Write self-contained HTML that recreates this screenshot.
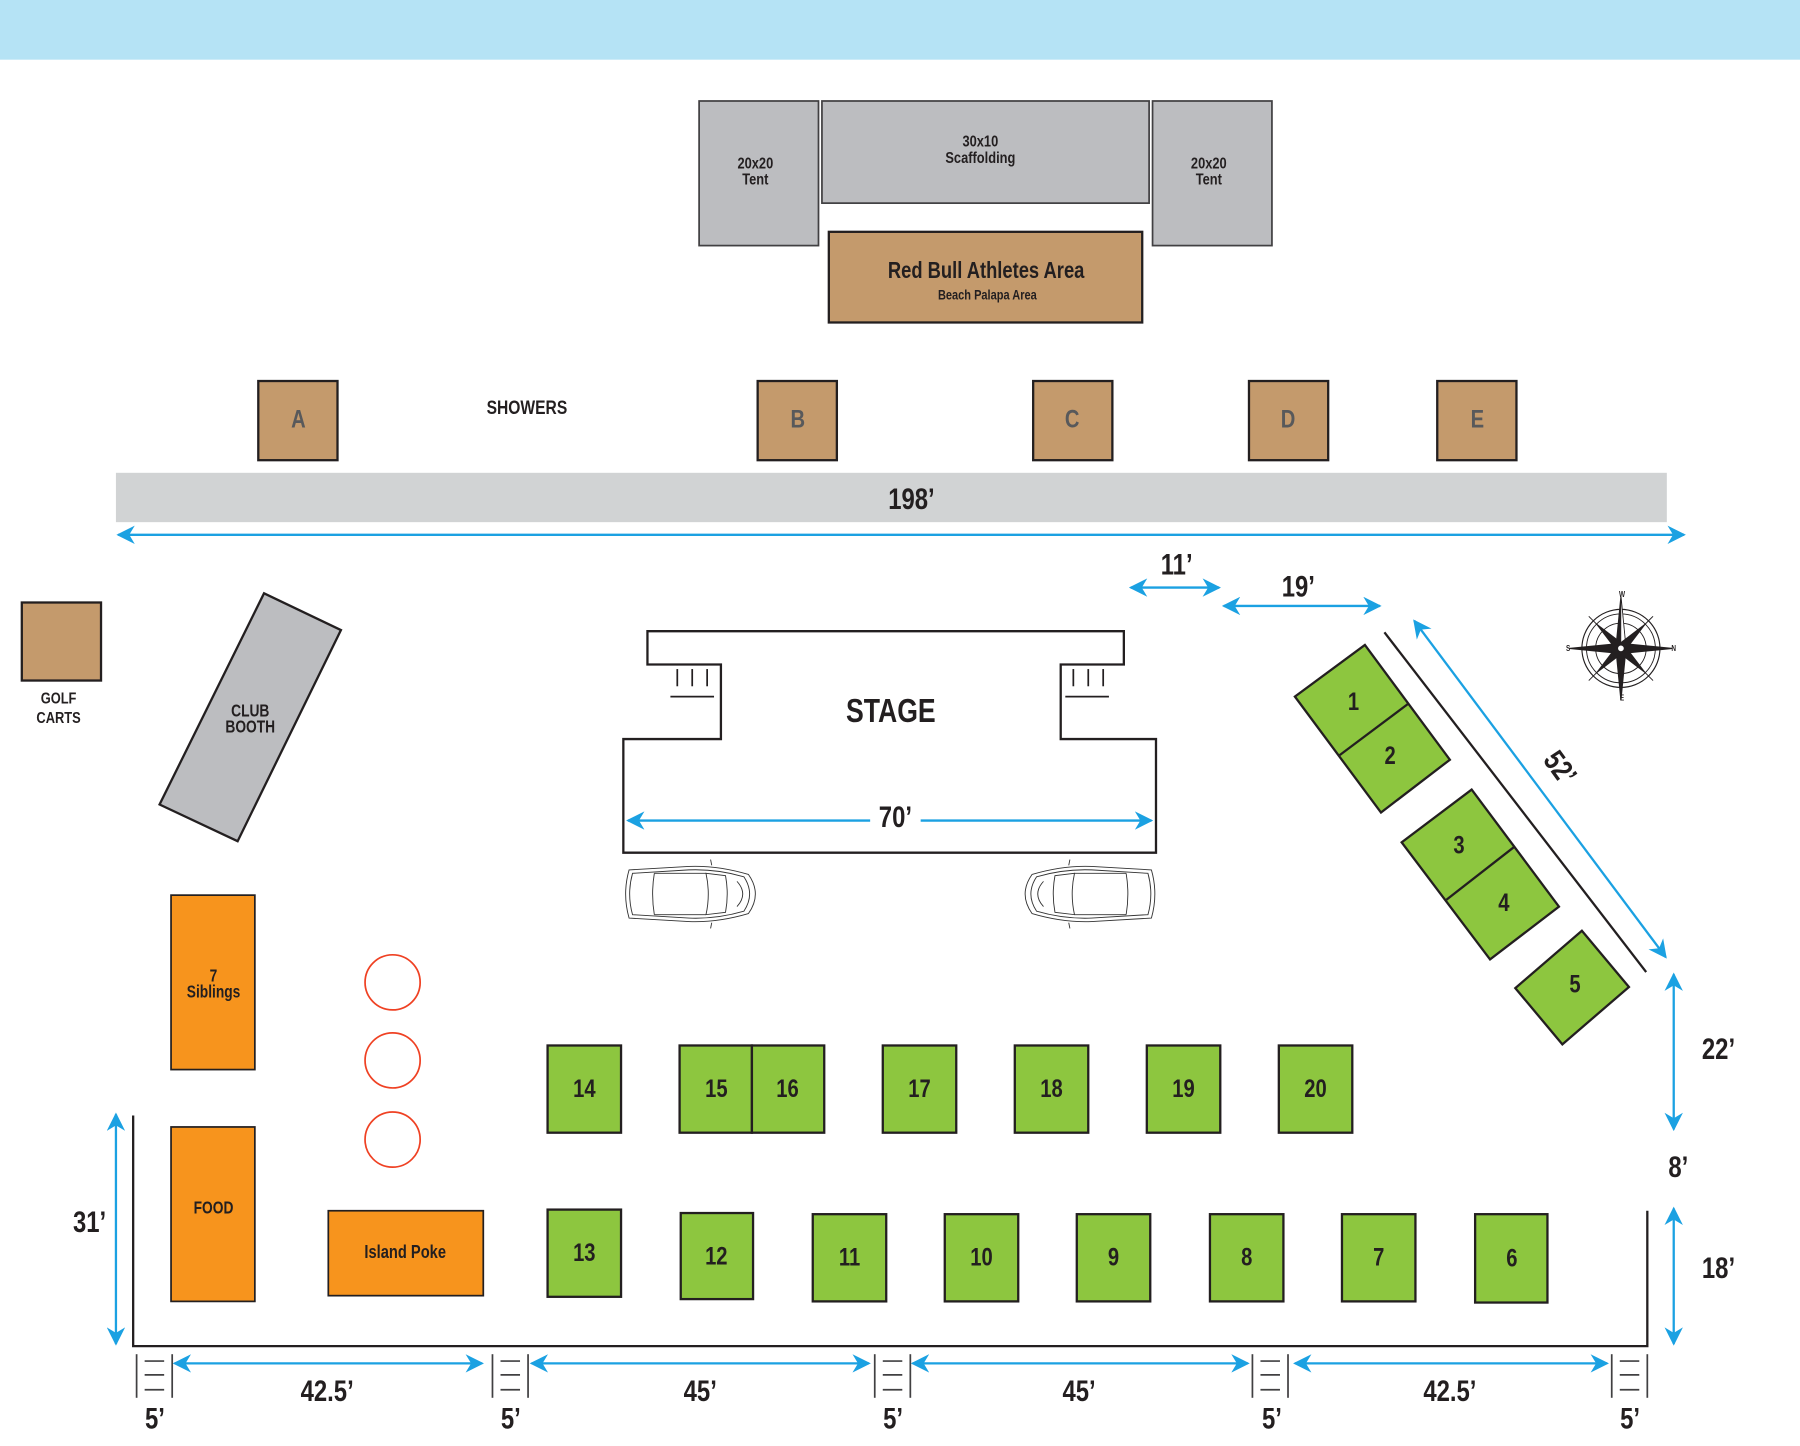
<!DOCTYPE html>
<html><head><meta charset="utf-8"><style>
html,body{margin:0;padding:0;background:#fff;}
svg{display:block}
text{font-family:"Liberation Sans",sans-serif;font-weight:bold;fill:#231f20;text-anchor:middle;dominant-baseline:central;transform-box:fill-box;transform-origin:center;transform:scaleX(.8)}
</style></head><body>
<svg width="1800" height="1446" viewBox="0 0 1568 1260" preserveAspectRatio="none" xmlns="http://www.w3.org/2000/svg">
<defs>
<marker id="a2" viewBox="0 0 10 10" refX="9" refY="5" markerWidth="16" markerHeight="16" orient="auto-start-reverse" markerUnits="userSpaceOnUse">
<path d="M0,0 L10,5 L0,10 L3,5 Z" fill="#1ba1e2"/></marker>
<g id="car" fill="none" stroke="#333" stroke-width="0.8">
<path d="M8,6 Q2,27 8,48 L60,51 Q85,52 112,44 Q124,27 112,10 Q85,2 60,3 Z"/>
<path d="M11,9 Q6,27 11,45 L60,48 Q84,49 108,42 Q118,27 108,12 Q84,5 60,6 Z"/>
<path d="M30,9 Q27,27 30,45 M75,9 Q79,27 75,45 L92,43 Q95,27 92,11 Z"/>
<path d="M75,9 L30,9 M75,45 L30,45"/>
<path d="M102,16 Q112,27 102,38"/>
<path d="M80,2 L79,-3 M80,52 L79,57"/>
</g>
</defs>
<rect x="0" y="0" width="1568" height="52" fill="#b5e3f5"/>
<g fill="#bcbdc0" stroke="#414042" stroke-width="1.5">
<rect x="609" y="88" width="104" height="126"/>
<rect x="716" y="88" width="285" height="89"/>
<rect x="1004" y="88" width="104" height="126"/>
</g>
<text x="658" y="143" font-size="14">20x20</text><text x="658" y="157" font-size="14">Tent</text>
<text x="854" y="124" font-size="14">30x10</text><text x="854" y="138" font-size="14">Scaffolding</text>
<text x="1053" y="143" font-size="14">20x20</text><text x="1053" y="157" font-size="14">Tent</text>
<rect x="722" y="202" width="273" height="79" fill="#c49a6c" stroke="#231f20" stroke-width="2"/>
<text x="859" y="236" font-size="20">Red Bull Athletes Area</text>
<text x="860" y="257" font-size="12">Beach Palapa Area</text>
<g fill="#c49a6c" stroke="#231f20" stroke-width="2">
<rect x="225" y="332" width="69" height="69"/><rect x="660" y="332" width="69" height="69"/>
<rect x="900" y="332" width="69" height="69"/><rect x="1088" y="332" width="69" height="69"/>
<rect x="1252" y="332" width="69" height="69"/>
</g>
<g font-size="22"><text x="260" y="365" style="fill:#58595b">A</text><text x="695" y="365" style="fill:#58595b">B</text><text x="934" y="365" style="fill:#58595b">C</text><text x="1122" y="365" style="fill:#58595b">D</text><text x="1287" y="365" style="fill:#58595b">E</text></g>
<text x="459" y="355" font-size="17">SHOWERS</text>
<rect x="101" y="412" width="1351" height="43" fill="#d1d3d4"/>
<text x="794" y="435" font-size="26">198’</text>
<!-- stage -->
<path d="M564,550 H979 V579 H924 V644 H1007 V743 H543 V644 H628 V579 H564 Z" fill="#fff" stroke="#231f20" stroke-width="2"/>
<g stroke="#231f20" stroke-width="1.5">
<line x1="590" y1="583" x2="590" y2="598"/><line x1="603" y1="583" x2="603" y2="598"/><line x1="616" y1="583" x2="616" y2="598"/><line x1="584" y1="607" x2="622" y2="607"/>
<line x1="935" y1="583" x2="935" y2="598"/><line x1="948" y1="583" x2="948" y2="598"/><line x1="961" y1="583" x2="961" y2="598"/><line x1="928" y1="607" x2="966" y2="607"/>
</g>
<text x="776" y="620" font-size="29">STAGE</text>
<g stroke="#1ba1e2" stroke-width="2" fill="none">
<line x1="103" y1="466" x2="1467" y2="466" marker-start="url(#a2)" marker-end="url(#a2)"/>
<line x1="985" y1="512" x2="1062" y2="512" marker-start="url(#a2)" marker-end="url(#a2)"/>
<line x1="1066" y1="528" x2="1202" y2="528" marker-start="url(#a2)" marker-end="url(#a2)"/>
<line x1="1232" y1="541" x2="1451" y2="834" marker-start="url(#a2)" marker-end="url(#a2)"/>
<line x1="1458" y1="849" x2="1458" y2="984" marker-start="url(#a2)" marker-end="url(#a2)"/>
<line x1="1458" y1="1053" x2="1458" y2="1171" marker-start="url(#a2)" marker-end="url(#a2)"/>
<line x1="101" y1="971" x2="101" y2="1171" marker-start="url(#a2)" marker-end="url(#a2)"/>
<line x1="547" y1="715" x2="1003" y2="715" marker-start="url(#a2)" marker-end="url(#a2)"/>
<line x1="152" y1="1188" x2="420" y2="1188" marker-start="url(#a2)" marker-end="url(#a2)"/>
<line x1="463" y1="1188" x2="757" y2="1188" marker-start="url(#a2)" marker-end="url(#a2)"/>
<line x1="795" y1="1188" x2="1087" y2="1188" marker-start="url(#a2)" marker-end="url(#a2)"/>
<line x1="1128" y1="1188" x2="1400" y2="1188" marker-start="url(#a2)" marker-end="url(#a2)"/>
</g>
<rect x="758" y="700" width="44" height="28" fill="#fff"/>
<g font-size="26">
<text x="780" y="712">70’</text>
<text x="1025" y="492">11’</text><text x="1131" y="511">19’</text>
<text x="1497" y="914">22’</text><text x="1462" y="1017">8’</text><text x="1497" y="1105">18’</text>
<text x="78" y="1065">31’</text>
<text x="285" y="1212">42.5’</text><text x="610" y="1212">45’</text><text x="940" y="1212">45’</text><text x="1263" y="1212">42.5’</text>
<text x="135" y="1236">5’</text><text x="445" y="1236">5’</text><text x="778" y="1236">5’</text><text x="1108" y="1236">5’</text><text x="1420" y="1236">5’</text>
<text x="1359" y="669" style="transform:rotate(54deg) scaleX(.8)">52’</text>
</g>
<rect x="19" y="525" width="69" height="68" fill="#c49a6c" stroke="#231f20" stroke-width="2"/>
<text x="51" y="609" font-size="14">GOLF</text><text x="51" y="626" font-size="14">CARTS</text>
<polygon points="230,517 297,549 207,733 139,701" fill="#bcbdc0" stroke="#231f20" stroke-width="2"/>
<text x="218" y="620" font-size="15">CLUB</text><text x="218" y="634" font-size="15">BOOTH</text>
<use href="#car" x="540" y="752"/>
<use href="#car" transform="translate(1011,752) scale(-1,1)"/>
<g fill="#f7941d" stroke="#231f20" stroke-width="1.5">
<rect x="149" y="780" width="73" height="152"/><rect x="149" y="982" width="73" height="152"/><rect x="286" y="1055" width="135" height="74"/>
</g>
<text x="186" y="851" font-size="15">7</text><text x="186" y="865" font-size="15">Siblings</text>
<text x="186" y="1053" font-size="15">FOOD</text><text x="353" y="1091" font-size="16">Island Poke</text>
<g fill="none" stroke="#ef4123" stroke-width="1.5"><circle cx="342" cy="856" r="24"/><circle cx="342" cy="924" r="24"/><circle cx="342" cy="993" r="24"/></g>
<g fill="#8dc63f" stroke="#231f20" stroke-width="2">
<rect x="477" y="911" width="64" height="76"/><rect x="592" y="911" width="63" height="76"/><rect x="655" y="911" width="63" height="76"/>
<rect x="769" y="911" width="64" height="76"/><rect x="884" y="911" width="64" height="76"/><rect x="999" y="911" width="64" height="76"/><rect x="1114" y="911" width="64" height="76"/>
<rect x="477" y="1054" width="64" height="76"/><rect x="593" y="1057" width="63" height="75"/><rect x="708" y="1058" width="64" height="76"/>
<rect x="823" y="1058" width="64" height="76"/><rect x="938" y="1058" width="64" height="76"/><rect x="1054" y="1058" width="64" height="76"/>
<rect x="1169" y="1058" width="64" height="76"/><rect x="1285" y="1058" width="63" height="77"/>
<polygon points="1189,562 1128,607 1203,708 1263,662"/><line x1="1167" y1="658" x2="1227" y2="613"/>
<polygon points="1282,688 1221,734 1298,836 1358,790"/><line x1="1260" y1="784" x2="1319" y2="738"/>
<polygon points="1378,811 1320,861 1361,910 1419,860"/>
</g>
<g font-size="22">
<text x="509" y="948">14</text><text x="624" y="948">15</text><text x="686" y="948">16</text><text x="801" y="948">17</text><text x="916" y="948">18</text><text x="1031" y="948">19</text><text x="1146" y="948">20</text>
<text x="509" y="1091">13</text><text x="624" y="1094">12</text><text x="740" y="1095">11</text><text x="855" y="1095">10</text><text x="970" y="1095">9</text><text x="1086" y="1095">8</text><text x="1201" y="1095">7</text><text x="1317" y="1096">6</text>
<text x="1179" y="611">1</text><text x="1211" y="658">2</text><text x="1271" y="736">3</text><text x="1310" y="786">4</text><text x="1372" y="857">5</text>
</g>
<line x1="1206" y1="551" x2="1434" y2="847" stroke="#231f20" stroke-width="2"/>
<path d="M116,972 V1173 H1435 V1055" fill="none" stroke="#231f20" stroke-width="2"/>
<g stroke="#414042" stroke-width="1.5">
<g id="gate"><line x1="119" y1="1180" x2="119" y2="1218"/><line x1="150" y1="1180" x2="150" y2="1218"/><line x1="126" y1="1186" x2="143" y2="1186"/><line x1="126" y1="1198" x2="143" y2="1198"/><line x1="126" y1="1211" x2="143" y2="1211"/></g>
<use href="#gate" x="310"/><use href="#gate" x="643"/><use href="#gate" x="972"/><use href="#gate" x="1285"/>
</g>
<g transform="translate(1412,565)" stroke="#231f20" fill="none">
<circle r="34" stroke-width="1"/><circle r="30" stroke-width="0.8"/><circle r="22" stroke-width="0.8"/>
<line x1="-28" y1="-28" x2="28" y2="28" stroke-width="0.8"/><line x1="-28" y1="28" x2="28" y2="-28" stroke-width="0.8"/>
<polygon points="0,-45 4,-4 45,0 4,4 0,45 -4,4 -45,0 -4,-4" fill="#231f20"/>
<polygon points="0,-45 4,-4 0,0" fill="#fff" stroke-width="0.5"/>
<polygon points="-22,-22 3,-3 22,22 -3,3" fill="#231f20" stroke-width="0.5"/>
<polygon points="22,-22 3,3 -22,22 -3,-3" fill="#231f20" stroke-width="0.5"/>
<circle r="3" fill="#fff" stroke-width="1"/>
</g>
<g font-size="7" style="font-weight:normal"><text x="1413" y="518">W</text><text x="1458" y="565">N</text><text x="1413" y="608">E</text><text x="1366" y="565">S</text></g>
</svg>
</body></html>
